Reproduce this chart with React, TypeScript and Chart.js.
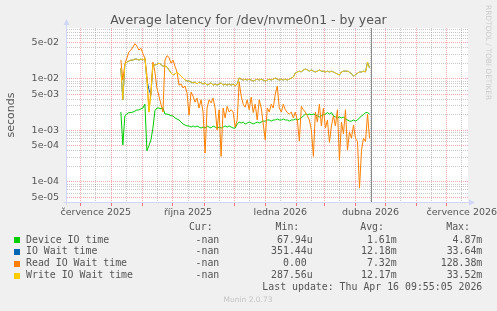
import { useEffect, useRef } from 'react';
import { Chart, registerables } from 'chart.js';

Chart.register(...registerables);

const W = 497;
const H = 311;

// Samples are daily averages every 2 days; x is measured in days from 1 Jan 2026.
const FIRST_DAY = -144;
const STEP_DAYS = 2;
const NOW_DAY = 105.41; // Thu Apr 16 09:55

// x range of the year view (days from 1 Jan 2026)
const X_MIN = -197.7;
const X_MAX = 202.2;
// y range (seconds, log scale)
const Y_MIN = 3.86e-5;
const Y_MAX = 0.0965;

const deviceIoTime = [
  0.00225, 0.00052, 0.0019, 0.00206, 0.0022, 0.0022, 0.00225, 0.00235, 0.00247, 0.00247,
  0.0026, 0.0027, 0.0032, 0.0004, 0.0005, 0.00065, 0.0011, 0.0024, 0.0027, 0.0027,
  0.0026, 0.0027, 0.00206, 0.00206, 0.002, 0.0019, 0.0019, 0.00173, 0.00165, 0.00158,
  0.00144, 0.00132, 0.00126, 0.00121, 0.00121, 0.00115, 0.00121, 0.00115, 0.00121, 0.00115,
  0.0011, 0.00115, 0.0011, 0.00121, 0.00115, 0.0011, 0.00121, 0.00115, 0.0011, 0.00115,
  0.0011, 0.00115, 0.00121, 0.00115, 0.00121, 0.00115, 0.0011, 0.0011, 0.00132, 0.00144,
  0.00138, 0.00144, 0.00132, 0.00138, 0.00144, 0.00138, 0.00132, 0.00138, 0.00144, 0.00138,
  0.00144, 0.0015, 0.0015, 0.00158, 0.00158, 0.0015, 0.00158, 0.00158, 0.00165, 0.00158,
  0.00158, 0.00165, 0.00158, 0.00158, 0.0015, 0.00158, 0.00158, 0.00165, 0.00158, 0.00165,
  0.00173, 0.0019, 0.00206, 0.002, 0.00206, 0.002, 0.00206, 0.002, 0.0019, 0.00181,
  0.0019, 0.002, 0.00206, 0.0022, 0.00206, 0.0022, 0.0019, 0.00181, 0.00173, 0.00181,
  0.00173, 0.00181, 0.00165, 0.00158, 0.0015, 0.0015, 0.00158, 0.0015, 0.00158, 0.00173,
  0.0019, 0.002, 0.0022, 0.0022, 0.00206,
];

const ioWaitTime = [
  0.016, 0.0039, 0.019, 0.021, 0.022, 0.023, 0.023, 0.024, 0.024, 0.023,
  0.024, 0.023, 0.025, 0.0094, 0.0062, 0.0048, 0.019, 0.0184, 0.019, 0.02,
  0.019, 0.0175, 0.0175, 0.017, 0.0148, 0.0129, 0.0118, 0.0123, 0.0135, 0.0123,
  0.0113, 0.0103, 0.0094, 0.009, 0.009, 0.0086, 0.0083, 0.0086, 0.0079, 0.0086,
  0.0083, 0.0079, 0.0083, 0.0075, 0.0079, 0.0083, 0.0075, 0.0079, 0.0075, 0.0079,
  0.0083, 0.0075, 0.0079, 0.0075, 0.0079, 0.0075, 0.0079, 0.0072, 0.0079, 0.0103,
  0.0098, 0.0094, 0.0098, 0.0094, 0.0098, 0.0094, 0.009, 0.0094, 0.0098, 0.0094,
  0.0098, 0.0094, 0.009, 0.0094, 0.0098, 0.0094, 0.0098, 0.0103, 0.0098, 0.0094,
  0.0098, 0.0094, 0.0098, 0.0094, 0.0098, 0.0103, 0.0108, 0.0129, 0.0135, 0.014,
  0.0135, 0.0148, 0.0154, 0.0148, 0.014, 0.0148, 0.014, 0.0135, 0.014, 0.0148,
  0.014, 0.014, 0.0135, 0.014, 0.0135, 0.014, 0.0135, 0.0129, 0.0123, 0.0118,
  0.0135, 0.014, 0.014, 0.014, 0.0135, 0.0123, 0.0113, 0.0118, 0.0129, 0.0135,
  0.0135, 0.014, 0.0135, 0.0211, 0.0161,
];

const readIoWaitTime = [
  0.0231, 0.0094, 0.0195, 0.025, 0.033, 0.036, 0.041, 0.048, 0.043, 0.036,
  0.039, 0.031, 0.025, 0.0118, 0.00225, 0.006, 0.021, 0.0135, 0.0066, 0.0046,
  0.0032, 0.00225, 0.023, 0.028, 0.026, 0.02, 0.023, 0.0175, 0.0135, 0.0075,
  0.0079, 0.0066, 0.0072, 0.0053, 0.00195, 0.0055, 0.0046, 0.0035, 0.0042, 0.0027,
  0.0039, 0.00225, 0.00036, 0.0027, 0.0039, 0.0034, 0.0042, 0.0027, 0.00101, 0.0025,
  0.00031, 0.0027, 0.00173, 0.0029, 0.00225, 0.0025, 0.00225, 0.00115, 0.00158, 0.0086,
  0.0046, 0.0032, 0.0028, 0.0039, 0.0025, 0.0044, 0.0022, 0.0032, 0.00158, 0.0039,
  0.0027, 0.00132, 0.00065, 0.0027, 0.00225, 0.0032, 0.0027, 0.005, 0.0072, 0.0027,
  0.00225, 0.0032, 0.0025, 0.0022, 0.00206, 0.00225, 0.00173, 0.00225, 0.00158, 0.00062,
  0.0029, 0.0025, 0.00225, 0.0019, 0.00158, 0.00101, 0.00031, 0.00225, 0.00144, 0.0032,
  0.00121, 0.0027, 0.0011, 0.00158, 0.00058, 0.00121, 0.0019, 0.00121, 0.0025, 0.00026,
  0.00144, 0.00085, 0.0025, 0.00041, 0.00093, 0.0007, 0.00126, 0.0007, 0.0006, 0.000075,
  0.00041, 0.0007, 0.0006, 0.00206, 0.0007,
];

const writeIoWaitTime = [
  0.016, 0.0039, 0.019, 0.021, 0.022, 0.023, 0.023, 0.024, 0.024, 0.023,
  0.024, 0.023, 0.025, 0.0094, 0.00225, 0.0048, 0.019, 0.0184, 0.019, 0.02,
  0.019, 0.0175, 0.0175, 0.017, 0.0148, 0.0129, 0.0118, 0.0123, 0.0135, 0.0123,
  0.0113, 0.0103, 0.0094, 0.009, 0.009, 0.0086, 0.0083, 0.0086, 0.0079, 0.0086,
  0.0083, 0.0079, 0.0083, 0.0075, 0.0079, 0.0083, 0.0075, 0.0079, 0.0075, 0.0079,
  0.0083, 0.0075, 0.0079, 0.0075, 0.0079, 0.0075, 0.0079, 0.0072, 0.0079, 0.0103,
  0.0098, 0.0094, 0.0098, 0.0094, 0.0098, 0.0094, 0.009, 0.0094, 0.0098, 0.0094,
  0.0098, 0.0094, 0.009, 0.0094, 0.0098, 0.0094, 0.0098, 0.0103, 0.0098, 0.0094,
  0.0098, 0.0094, 0.0098, 0.0094, 0.0098, 0.0103, 0.0108, 0.0129, 0.0135, 0.014,
  0.0135, 0.0148, 0.0154, 0.0148, 0.014, 0.0148, 0.014, 0.0135, 0.014, 0.0148,
  0.014, 0.014, 0.0135, 0.014, 0.0135, 0.014, 0.0135, 0.0129, 0.0123, 0.0118,
  0.0135, 0.014, 0.014, 0.014, 0.0135, 0.0123, 0.0113, 0.0118, 0.0129, 0.0135,
  0.0135, 0.014, 0.0135, 0.0211, 0.0161,
];

const seriesNames = ['Device IO time', 'IO Wait time', 'Read IO Wait time', 'Write IO Wait time'];
const seriesColors = ['#00CC00', '#0066B3', '#FF8000', '#FFCC00'];
const seriesValues = [deviceIoTime, ioWaitTime, readIoWaitTime, writeIoWaitTime];

const curValues = ['-nan', '-nan', '-nan', '-nan'];
const minValues = ['67.94u', '351.44u', '0.00 ', '287.56u'];
const avgValues = ['1.61m', '12.18m', '7.32m', '12.17m'];
const maxValues = ['4.87m', '33.64m', '128.38m', '33.52m'];

// Month labels (shown at mid-month)
const labelMonths = ['2025-7', '2025-10', '2026-1', '2026-4', '2026-7'];
const labelTexts = ['července 2025', 'října 2025', 'ledna 2026', 'dubna 2026', 'července 2026'];

const TITLE = 'Average latency for /dev/nvme0n1 - by year';
const Y_TITLE = 'seconds';
const LAST_UPDATE = 'Last update: Thu Apr 16 09:55:05 2026';
const VERSION = 'Munin 2.0.73';
const SIDE_TEXT = 'RRDTOOL / TOBI OETIKER';

const FONT = '"DejaVu Sans", sans-serif';
const MONO = '"DejaVu Sans Mono", monospace';
const TEXT_COLOR = '#555555';
const AXIS_COLOR = '#CFD6F8';
const MAJOR_GRID = 'rgba(255,40,40,0.4)';
const MINOR_GRID = 'rgba(128,128,128,0.42)';

const DAY_MS = 86400000;
const dayOf = (y: number, m: number, d: number) =>
  (Date.UTC(y, m - 1, d) - Date.UTC(2026, 0, 1)) / DAY_MS;

// Month-start and mid-month positions across the visible range
type XTick = { value: number; major: boolean; label: string };
const xTicks: XTick[] = [];
for (let k = 0; k < 16; k++) {
  const y = 2025 + Math.floor((5 + k) / 12);
  const m = ((5 + k) % 12) + 1;
  const start = dayOf(y, m, 1);
  const mid = start + 15;
  if (start >= X_MIN && start <= X_MAX) xTicks.push({ value: start, major: true, label: '' });
  if (mid >= X_MIN && mid <= X_MAX) {
    const idx = labelMonths.indexOf(`${y}-${m}`);
    xTicks.push({ value: mid, major: false, label: idx >= 0 ? labelTexts[idx] : '' });
  }
}
const xTickValues = xTicks.map((t) => t.value);

// Log grid: 1..9 x 10^n, with 1 and 5 marked and labelled
const yMantissas = [1, 2, 3, 4, 5, 6, 7, 8, 9];
const yExponents = [-5, -4, -3, -2];
type YTick = { value: number; major: boolean; label: string };
const yTicks: YTick[] = [];
for (const e of yExponents) {
  for (const m of yMantissas) {
    const v = m * Math.pow(10, e);
    if (v < Y_MIN || v > Y_MAX) continue;
    const major = m === 1 || m === 5;
    const label = major ? `${m}e-${String(-e).padStart(2, '0')}` : '';
    yTicks.push({ value: v, major, label });
  }
}
const findY = (v: number) =>
  yTicks.reduce((best, t) => (Math.abs(Math.log10(t.value / v)) < Math.abs(Math.log10(best.value / v)) ? t : best), yTicks[0]);
const findX = (v: number) =>
  xTicks.reduce((best, t) => (Math.abs(t.value - v) < Math.abs(best.value - v) ? t : best), xTicks[0]);

const muninFrame = {
  id: 'muninFrame',
  beforeDraw(chart: any) {
    const { ctx, chartArea: a } = chart;
    ctx.save();
    ctx.fillStyle = '#F0F0F0';
    ctx.fillRect(0, 0, W, H);
    ctx.fillStyle = '#FFFFFF';
    ctx.fillRect(a.left, a.top, a.right - a.left, a.bottom - a.top);
    ctx.restore();
  },
  beforeDatasetsDraw(chart: any) {
    // dotted grid: minor lines first, then red major lines on top
    const { ctx, chartArea: a, scales } = chart;
    ctx.save();
    ctx.lineWidth = 1;
    ctx.setLineDash([1, 1]);
    for (const pass of [false, true]) {
      ctx.strokeStyle = pass ? MAJOR_GRID : MINOR_GRID;
      ctx.beginPath();
      for (const t of yTicks) {
        if (t.major !== pass) continue;
        const py = Math.floor(scales.y.getPixelForValue(t.value)) + 0.5;
        ctx.moveTo(a.left, py);
        ctx.lineTo(a.right, py);
      }
      for (const t of xTicks) {
        if (t.major !== pass) continue;
        const px = Math.floor(scales.x.getPixelForValue(t.value)) + 0.5;
        ctx.moveTo(px, a.bottom);
        ctx.lineTo(px, a.top);
      }
      ctx.stroke();
    }
    ctx.restore();
  },
  afterDatasetsDraw(chart: any) {
    const { ctx, chartArea: a } = chart;
    const x = Math.round(chart.scales.x.getPixelForValue(NOW_DAY)) + 0.5;
    ctx.save();
    ctx.strokeStyle = '#8A8A8A';
    ctx.lineWidth = 1;
    ctx.beginPath();
    ctx.moveTo(x, a.top);
    ctx.lineTo(x, a.bottom);
    ctx.stroke();
    ctx.restore();
  },
  afterDraw(chart: any) {
    const { ctx, chartArea: a } = chart;
    ctx.save();

    // axes with arrow heads
    const ax = Math.round(a.left) - 0.5;
    const ay = Math.round(a.bottom) - 0.5;
    ctx.strokeStyle = AXIS_COLOR;
    ctx.fillStyle = AXIS_COLOR;
    ctx.lineWidth = 1;
    ctx.beginPath();
    ctx.moveTo(ax, ay + 3);
    ctx.lineTo(ax, a.top - 4);
    ctx.moveTo(ax - 3, ay);
    ctx.lineTo(a.right + 2, ay);
    ctx.stroke();
    ctx.beginPath();
    ctx.moveTo(ax - 3, a.top - 3);
    ctx.lineTo(ax + 3, a.top - 3);
    ctx.lineTo(ax, a.top - 9);
    ctx.closePath();
    ctx.fill();
    ctx.beginPath();
    ctx.moveTo(a.right + 1, ay - 3);
    ctx.lineTo(a.right + 1, ay + 3);
    ctx.lineTo(a.right + 7, ay);
    ctx.closePath();
    ctx.fill();

    // title
    ctx.fillStyle = TEXT_COLOR;
    ctx.font = `12.5px ${FONT}`;
    ctx.textAlign = 'center';
    ctx.textBaseline = 'alphabetic';
    ctx.fillText(TITLE, 248.5, 24);

    // y axis title
    ctx.save();
    ctx.translate(11.5, 115);
    ctx.rotate(-Math.PI / 2);
    ctx.font = `11px ${FONT}`;
    ctx.textBaseline = 'middle';
    ctx.fillText(Y_TITLE, 0, 0);
    ctx.restore();

    // legend table
    ctx.font = `9.9px ${MONO}`;
    ctx.textBaseline = 'middle';
    ctx.textAlign = 'right';
    const headY = 227.7;
    ctx.fillText('Cur:', 212.7, headY);
    ctx.fillText('Min:', 299.3, headY);
    ctx.fillText('Avg:', 384, headY);
    ctx.fillText('Max:', 470, headY);
    seriesNames.forEach((name, i) => {
      const y = 240 + i * 11.9;
      ctx.fillStyle = seriesColors[i];
      ctx.fillRect(14, Math.round(y) - 3, 6, 6);
      ctx.fillStyle = TEXT_COLOR;
      ctx.textAlign = 'left';
      ctx.fillText(name, 26, y);
      ctx.textAlign = 'right';
      ctx.fillText(curValues[i], 219.3, y);
      ctx.fillText(minValues[i], 312.7, y);
      ctx.fillText(avgValues[i], 396.7, y);
      ctx.fillText(maxValues[i], 482.3, y);
    });
    ctx.fillText(LAST_UPDATE, 482.3, 287.7);

    // footer and side watermark
    ctx.fillStyle = '#C4C4C4';
    ctx.font = `7.5px ${FONT}`;
    ctx.textAlign = 'center';
    ctx.fillText(VERSION, 248, 300);
    ctx.save();
    ctx.translate(488.3, 5);
    ctx.rotate(Math.PI / 2);
    ctx.fillStyle = '#CCCCCC';
    ctx.font = `7.4px ${FONT}`;
    ctx.textAlign = 'left';
    ctx.textBaseline = 'middle';
    ctx.fillText(SIDE_TEXT, 0, 0);
    ctx.restore();

    ctx.restore();
  },
};

export default function App() {
  const ref = useRef<HTMLCanvasElement>(null);

  useEffect(() => {
    document.body.style.margin = '0';
    const canvas = ref.current;
    if (!canvas) return;

    const datasets = seriesValues.map((vals, s) => ({
      label: seriesNames[s],
      data: vals.map((v, i) => ({ x: FIRST_DAY + i * STEP_DAYS, y: v })),
      borderColor: seriesColors[s],
      backgroundColor: seriesColors[s],
      borderWidth: 1,
      pointRadius: 0,
      tension: 0,
      fill: false,
      order: seriesNames.length - s,
    }));

    const chart = new Chart(canvas, {
      type: 'line',
      data: { datasets },
      options: {
        animation: false,
        responsive: false,
        maintainAspectRatio: false,
        devicePixelRatio: 1,
        events: [],
        layout: { padding: { left: 0, right: W - 468, top: 28, bottom: H - 203 - 20 } },
        plugins: { legend: { display: false }, tooltip: { enabled: false }, title: { display: false } },
        scales: {
          x: {
            type: 'linear',
            min: X_MIN,
            max: X_MAX,
            afterBuildTicks: (scale: any) => {
              scale.ticks = xTickValues.map((v) => ({ value: v }));
            },
            afterFit: (scale: any) => {
              scale.height = 20;
              scale.paddingLeft = 0;
              scale.paddingRight = 0;
            },
            ticks: {
              autoSkip: false,
              maxRotation: 0,
              minRotation: 0,
              padding: 1,
              color: TEXT_COLOR,
              font: { family: FONT, size: 9.5 },
              callback: (value: any) => findX(Number(value)).label,
            },
            grid: {
              drawOnChartArea: false,
              tickColor: (ctx: any) => (ctx.tick && findX(ctx.tick.value).major ? 'rgba(255,0,0,0.5)' : 'rgba(0,0,0,0)'),
              tickLength: 3,
              lineWidth: 1,
            },
            border: { display: false },
          },
          y: {
            type: 'logarithmic',
            min: Y_MIN,
            max: Y_MAX,
            afterBuildTicks: (scale: any) => {
              scale.ticks = yTicks.map((t) => ({ value: t.value }));
            },
            afterFit: (scale: any) => {
              scale.width = 67;
              scale.paddingTop = 0;
              scale.paddingBottom = 0;
            },
            ticks: {
              autoSkip: false,
              padding: 8,
              color: TEXT_COLOR,
              font: { family: FONT, size: 9.5 },
              callback: (value: any) => findY(Number(value)).label,
            },
            grid: { drawOnChartArea: false, drawTicks: false },
            border: { display: false },
          },
        },
      },
      plugins: [muninFrame],
    });

    return () => chart.destroy();
  }, []);

  return <canvas ref={ref} width={W} height={H} style={{ display: 'block', width: W, height: H }} />;
}
